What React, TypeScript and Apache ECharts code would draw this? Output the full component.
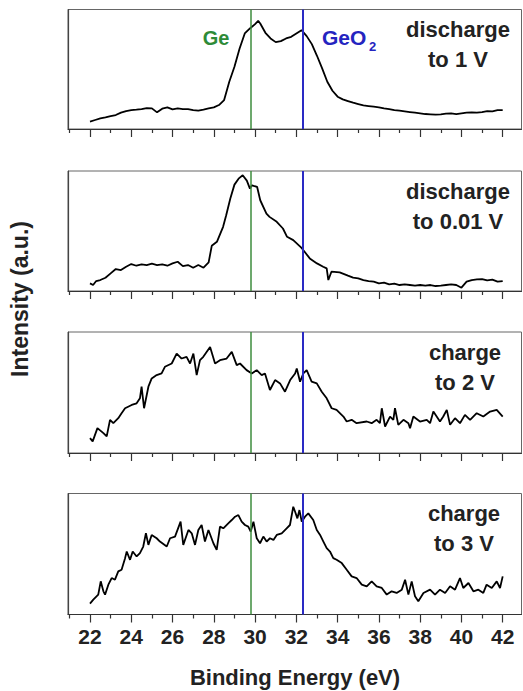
import React, { useEffect, useRef } from "react";
import * as echarts from "echarts";

// ---- data (binding energy in eV, intensity in arbitrary units) ----
const energyP1 = [22, 22.25, 22.5, 22.75, 23, 23.25, 23.5, 23.75, 24, 24.25, 24.5, 24.75, 25, 25.25, 25.5, 25.75, 26, 26.25, 26.5, 26.75, 27, 27.25, 27.5, 27.75, 28, 28.25, 28.5, 28.75, 29, 29.25, 29.5, 29.75, 30, 30.15, 30.25, 30.5, 30.75, 31, 31.25, 31.5, 31.75, 32, 32.25, 32.5, 32.75, 33, 33.25, 33.5, 33.75, 34, 34.25, 34.5, 34.75, 35, 35.25, 35.5, 35.75, 36, 36.25, 36.5, 36.75, 37, 37.25, 37.5, 37.75, 38, 38.25, 38.5, 38.75, 39, 39.25, 39.5, 39.75, 40, 40.25, 40.5, 40.75, 41, 41.25, 41.5, 41.75, 42];
const intensityP1 = [22, 27, 32, 35, 39, 42, 49, 54, 57, 58, 60, 63, 62, 50, 61, 65, 59, 62, 60, 60, 57, 55, 58, 62, 65, 72, 87, 142, 187, 242, 287, 302, 315, 325, 317, 289, 272, 261, 264, 272, 277, 287, 297, 279, 255, 220, 182, 142, 115, 97, 89, 84, 79, 75, 71, 69, 67, 65, 62, 60, 57, 55, 53, 51, 49, 47, 45, 44, 43, 44, 46, 47, 45, 47, 49, 50, 49, 51, 54, 53, 57, 57];

const energyP2 = [22, 22.15, 22.3, 22.5, 22.75, 23, 23.25, 23.5, 23.75, 24, 24.25, 24.5, 24.75, 25, 25.25, 25.5, 25.75, 26, 26.25, 26.5, 26.75, 27, 27.25, 27.5, 27.75, 27.9, 28.15, 28.45, 28.6, 28.8, 29, 29.2, 29.4, 29.6, 29.75, 29.85, 30.1, 30.25, 30.55, 30.7, 31.05, 31.35, 31.55, 31.85, 32.2, 32.4, 32.65, 33, 33.3, 33.47, 33.55, 33.7, 34.1, 34.5, 34.75, 35, 35.25, 35.5, 35.75, 36, 36.25, 36.5, 36.75, 37, 37.25, 37.5, 37.75, 38, 38.25, 38.5, 38.75, 39, 39.25, 39.5, 39.75, 40, 40.25, 40.5, 40.75, 41, 41.25, 41.5, 41.75, 42];
const intensityP2 = [23, 18, 30, 33, 40, 53, 66, 63, 73, 81, 76, 80, 78, 82, 78, 80, 76, 83, 88, 75, 78, 70, 78, 70, 86, 136, 148, 193, 228, 278, 320, 338, 348, 332, 308, 318, 313, 273, 233, 223, 208, 188, 163, 153, 133, 118, 98, 83, 73, 68, 33, 58, 56, 46, 40, 38, 33, 30, 28, 23, 25, 20, 22, 18, 20, 18, 16, 18, 16, 18, 15, 16, 18, 20, 18, 10, 28, 33, 35, 36, 32, 34, 28, 30];

const energyP3 = [22, 22.13, 22.36, 22.65, 22.81, 22.97, 23.13, 23.37, 23.53, 23.7, 24.02, 24.26, 24.42, 24.5, 24.62, 24.83, 24.99, 25.23, 25.47, 25.63, 25.96, 26.2, 26.44, 26.68, 26.85, 27.01, 27.17, 27.33, 27.49, 27.82, 28.06, 28.3, 28.62, 28.87, 29.11, 29.27, 29.59, 29.84, 30.08, 30.32, 30.48, 30.72, 30.97, 31.21, 31.45, 31.7, 31.94, 32.02, 32.18, 32.34, 32.5, 32.74, 32.99, 33.23, 33.47, 33.71, 33.95, 34.28, 34.44, 34.68, 34.92, 35.41, 35.65, 35.89, 36.05, 36.14, 36.3, 36.54, 36.7, 36.78, 36.94, 37.19, 37.43, 37.51, 37.67, 37.99, 38.32, 38.48, 38.64, 38.96, 39.12, 39.29, 39.45, 39.69, 39.93, 40.17, 40.42, 40.74, 41.06, 41.39, 41.71, 42];
const intensityP3 = [45, 35, 75, 60, 50, 100, 90, 105, 120, 135, 145, 150, 165, 200, 135, 200, 225, 235, 240, 260, 270, 300, 285, 290, 270, 300, 235, 280, 290, 320, 270, 280, 285, 305, 265, 270, 250, 240, 250, 235, 240, 190, 220, 210, 185, 220, 240, 255, 215, 240, 250, 215, 210, 185, 165, 135, 130, 110, 95, 100, 90, 95, 90, 100, 90, 135, 80, 110, 100, 135, 85, 100, 90, 75, 110, 95, 100, 90, 125, 95, 110, 130, 85, 105, 90, 115, 100, 120, 110, 125, 130, 110];

const energyP4 = [22, 22.16, 22.4, 22.52, 22.65, 22.73, 22.89, 23.05, 23.21, 23.37, 23.53, 23.7, 23.78, 23.94, 24.07, 24.26, 24.42, 24.58, 24.71, 24.83, 24.99, 25.23, 25.39, 25.72, 25.88, 26.12, 26.39, 26.52, 26.77, 26.93, 27.09, 27.25, 27.41, 27.57, 27.74, 27.98, 28.14, 28.3, 28.46, 28.7, 28.87, 29.03, 29.19, 29.35, 29.51, 29.67, 29.79, 29.92, 30.08, 30.24, 30.4, 30.56, 30.72, 30.89, 31.05, 31.29, 31.53, 31.69, 31.85, 31.94, 32.05, 32.15, 32.26, 32.42, 32.58, 32.82, 32.99, 33.15, 33.31, 33.47, 33.63, 33.79, 33.95, 34.2, 34.44, 34.68, 34.92, 35.17, 35.41, 35.65, 35.89, 36.14, 36.38, 36.62, 36.86, 37.11, 37.27, 37.43, 37.59, 37.75, 37.91, 38.16, 38.48, 38.72, 38.96, 39.21, 39.45, 39.69, 39.93, 40.09, 40.34, 40.58, 40.82, 41.06, 41.22, 41.47, 41.71, 41.87, 42];
const intensityP4 = [33, 45, 60, 100, 70, 60, 90, 110, 105, 130, 135, 170, 190, 165, 190, 175, 185, 205, 245, 210, 240, 230, 220, 205, 230, 235, 280, 210, 255, 245, 210, 255, 270, 220, 255, 215, 195, 265, 260, 275, 285, 295, 300, 280, 270, 265, 250, 280, 230, 215, 235, 220, 230, 225, 240, 245, 260, 270, 325, 310, 290, 315, 280, 295, 305, 285, 255, 240, 220, 200, 190, 170, 165, 155, 135, 115, 110, 90, 85, 100, 85, 80, 60, 70, 65, 75, 105, 60, 100, 55, 40, 65, 75, 60, 75, 65, 85, 75, 110, 80, 95, 70, 75, 65, 90, 80, 100, 80, 115];

const panelEnergies = [energyP1, energyP2, energyP3, energyP4];
const panelIntensities = [intensityP1, intensityP2, intensityP3, intensityP4];
const panelLabels = ["discharge\nto 1 V", "discharge\nto 0.01 V", "charge\nto 2 V", "charge\nto 3 V"];
const panelIntensityMax = [359, 361, 365, 365];

const majorTicks = [22, 24, 26, 28, 30, 32, 34, 36, 38, 40, 42];
const minorTicks = [21, 23, 25, 27, 29, 31, 33, 35, 37, 39, 41];
const energyMin = 20.934;
const energyMax = 42.911;

const geEnergy = 29.79;
const geo2Energy = 32.32;

const xTitle = "Binding Energy (eV)";
const yTitle = "Intensity (a.u.)";

// ---- layout ----
const W = 523;
const H = 691;
const GRID_LEFT = 68;
const GRID_WIDTH = 453.5;
const gridTops = [9.5, 171, 332, 493.5];
const gridHeights = [119.5, 120, 121, 121];
const labelCenterX = [458, 458, 465, 464];
const FONT = "'Liberation Sans', Arial, Helvetica, sans-serif";
const GREEN = "#3c8c3c";
const BLUE = "#2a2ac4";

export default function App() {
  const ref = useRef<HTMLDivElement>(null);

  useEffect(() => {
    if (!ref.current) return;
    const chart = echarts.init(ref.current, null, { renderer: "svg" });

    const grids: any[] = [];
    const xAxes: any[] = [];
    const yAxes: any[] = [];
    const series: any[] = [];
    const graphics: any[] = [];

    for (let i = 0; i < 4; i++) {
      const isLast = i === 3;
      grids.push({
        left: GRID_LEFT,
        top: gridTops[i],
        width: GRID_WIDTH,
        height: gridHeights[i],
        show: true,
        borderColor: "#666",
        borderWidth: 1,
        containLabel: false,
      });
      xAxes.push({
        type: "value",
        gridIndex: i,
        position: "bottom",
        min: energyMin,
        max: energyMax,
        axisLine: { show: true, onZero: false, lineStyle: { color: "#333", width: 1.2 } },
        axisTick: {
          show: true,
          inside: false,
          length: 8,
          customValues: majorTicks,
          lineStyle: { color: "#333", width: 1.2 },
        },
        axisLabel: {
          show: isLast,
          customValues: majorTicks,
          margin: 11,
          fontSize: 21,
          fontWeight: "bold",
          fontFamily: FONT,
          color: "#222",
        },
        splitLine: { show: false },
      });
      xAxes.push({
        type: "value",
        gridIndex: i,
        position: "bottom",
        min: energyMin,
        max: energyMax,
        axisLine: { show: false, onZero: false },
        axisTick: {
          show: true,
          inside: false,
          length: 4,
          customValues: minorTicks,
          lineStyle: { color: "#333", width: 1.2 },
        },
        axisLabel: { show: false },
        splitLine: { show: false },
      });
      yAxes.push({
        type: "value",
        gridIndex: i,
        min: 0,
        max: panelIntensityMax[i],
        axisLine: { show: true, lineStyle: { color: "#444", width: 1.2 } },
        axisTick: { show: false },
        axisLabel: { show: false },
        splitLine: { show: false },
      });
      const energies = panelEnergies[i];
      const vals = panelIntensities[i];
      series.push({
        type: "line",
        xAxisIndex: i * 2,
        yAxisIndex: i,
        data: energies.map((e, k) => [e, vals[k]]),
        showSymbol: false,
        symbol: "none",
        lineStyle: { color: "#000", width: 1.8 },
        z: 3,
        markLine: {
          silent: true,
          symbol: "none",
          label: { show: false },
          animation: false,
          data: [
            { xAxis: geEnergy, lineStyle: { color: GREEN, width: 1.5, type: "solid" } },
            { xAxis: geo2Energy, lineStyle: { color: BLUE, width: 2, type: "solid" } },
          ],
        },
      });
      graphics.push({
        type: "text",
        x: labelCenterX[i],
        y: gridTops[i] + 35,
        z: 10,
        style: {
          text: panelLabels[i],
          font: `bold 22px ${FONT}`,
          fill: "#222",
          align: "center",
          textAlign: "center",
          verticalAlign: "middle",
          textVerticalAlign: "middle",
          lineHeight: 30,
        },
      });
    }

    graphics.push(
      {
        type: "text",
        x: 216,
        y: 37.5,
        z: 10,
        style: {
          text: "Ge",
          font: `bold 20px ${FONT}`,
          fill: "#2e8b37",
          align: "center",
          textAlign: "center",
          verticalAlign: "middle",
          textVerticalAlign: "middle",
        },
      },
      {
        type: "text",
        x: 322,
        y: 37.5,
        z: 10,
        style: {
          text: "GeO",
          font: `bold 21px ${FONT}`,
          fill: "#2424c0",
          align: "left",
          textAlign: "left",
          verticalAlign: "middle",
          textVerticalAlign: "middle",
        },
      },
      {
        type: "text",
        x: 369,
        y: 46.5,
        z: 10,
        style: {
          text: "2",
          font: `bold 13px ${FONT}`,
          fill: "#2424c0",
          align: "left",
          textAlign: "left",
          verticalAlign: "middle",
          textVerticalAlign: "middle",
        },
      },
      {
        type: "text",
        x: 295,
        y: 677.5,
        z: 10,
        style: {
          text: xTitle,
          font: `bold 22px ${FONT}`,
          fill: "#222",
          align: "center",
          textAlign: "center",
          verticalAlign: "middle",
          textVerticalAlign: "middle",
        },
      },
      {
        type: "text",
        x: 20,
        y: 299,
        rotation: Math.PI / 2,
        z: 10,
        style: {
          text: yTitle,
          font: `bold 23px ${FONT}`,
          fill: "#222",
          align: "center",
          textAlign: "center",
          verticalAlign: "middle",
          textVerticalAlign: "middle",
        },
      }
    );

    chart.setOption({
      animation: false,
      backgroundColor: "#fff",
      grid: grids,
      xAxis: xAxes,
      yAxis: yAxes,
      series,
      graphic: graphics,
    });

    return () => chart.dispose();
  }, []);

  return (
    <div
      ref={ref}
      style={{ position: "absolute", left: 0, top: 0, width: W, height: H }}
    />
  );
}
